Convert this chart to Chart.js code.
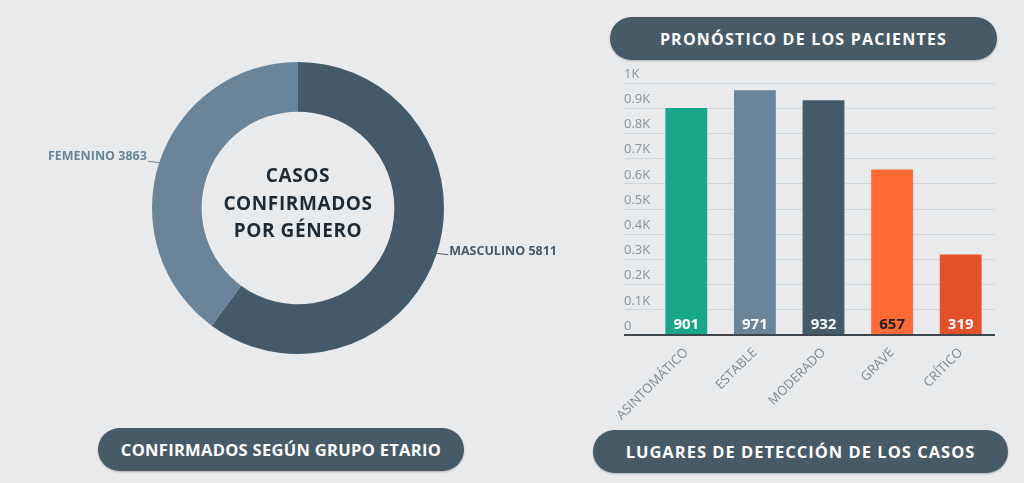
<!DOCTYPE html>
<html>
<head>
<meta charset="utf-8">
<script src="https://cdn.jsdelivr.net/npm/chart.js@4.4.1/dist/chart.umd.min.js"></script>
<style>
  html, body { margin: 0; padding: 0; background: #e9eaec; }
  body { width: 1024px; height: 483px; position: relative; overflow: hidden; font-family: "Open Sans", sans-serif; }
  .pill {
    position: absolute; background: #475a68; color: #fff; font-weight: 700;
    border-radius: 22px; display: flex; align-items: center; justify-content: center;
    font-size: 16px; letter-spacing: 1.2px; box-shadow: 0 1px 2px rgba(0,0,0,0.25);
  }
  #center {
    position: absolute; left: 178px; top: 162px; width: 240px; text-align: center;
    font-weight: 700; font-size: 19px; letter-spacing: 0.6px; line-height: 27.5px; color: #1e2b35;
  }
  canvas { position: absolute; }
</style>
</head>
<body>
<div class="pill" style="left:610px;top:17px;width:387px;height:43px;">PRONÓSTICO DE LOS PACIENTES</div>
<div class="pill" style="left:98px;top:428px;width:366px;height:43px;font-size:16.5px;letter-spacing:0.3px;">CONFIRMADOS SEGÚN GRUPO ETARIO</div>
<div class="pill" style="left:593px;top:430px;width:415px;height:43px;font-size:16.5px;letter-spacing:1px;">LUGARES DE DETECCIÓN DE LOS CASOS</div>

<canvas id="donut" width="600" height="430" style="left:0;top:0;width:600px;height:430px;"></canvas>
<div id="center">CASOS<br>CONFIRMADOS<br>POR GÉNERO</div>
<canvas id="bars" width="410" height="370" style="left:600px;top:60px;width:410px;height:370px;"></canvas>

<script>
// donut data
const genders = ["MASCULINO", "FEMENINO"];
const genderCases = [5811, 3863];
const genderColors = ["#455a69", "#6a8599"];

// bar data
const outcomes = ["ASINTOMÁTICO", "ESTABLE", "MODERADO", "GRAVE", "CRÍTICO"];
const outcomeCases = [901, 971, 932, 657, 319];
const outcomeColors = ["#1aa68b", "#6a8599", "#455a69", "#fd6a34", "#e4502a"];
const outcomeLabelColors = ["#ffffff", "#ffffff", "#ffffff", "#222222", "#ffffff"];

const labelFont = "700 12.5px 'Open Sans', sans-serif";

// leader lines + labels next to each slice
const sliceLabels = {
  id: "sliceLabels",
  afterDatasetsDraw(chart) {
    const ctx = chart.ctx;
    const arcs = chart.getDatasetMeta(0).data;
    ctx.save();
    ctx.font = labelFont;
    ctx.textBaseline = "middle";
    arcs.forEach((arc, i) => {
      const mid = (arc.startAngle + arc.endAngle) / 2;
      const cos = Math.cos(mid), sin = Math.sin(mid);
      const x1 = arc.x + cos * arc.outerRadius, y1 = arc.y + sin * arc.outerRadius;
      const x2 = arc.x + cos * (arc.outerRadius + 12), y2 = arc.y + sin * (arc.outerRadius + 4);
      ctx.strokeStyle = genderColors[i];
      ctx.lineWidth = 1;
      ctx.beginPath();
      ctx.moveTo(x1, y1);
      ctx.lineTo(x2, y2);
      ctx.stroke();
      ctx.fillStyle = genderColors[i];
      const txt = genders[i] + " " + genderCases[i];
      if (cos >= 0) {
        ctx.textAlign = "left";
        ctx.fillText(txt, x2 + 1, y2 - 3);
      } else {
        ctx.textAlign = "right";
        ctx.fillText(txt, x2 - 1, y2 - 5);
      }
    });
    ctx.restore();
  }
};

new Chart(document.getElementById("donut"), {
  type: "doughnut",
  data: {
    labels: genders,
    datasets: [{
      data: genderCases,
      backgroundColor: genderColors,
      borderWidth: 0
    }]
  },
  options: {
    responsive: false,
    animation: false,
    cutout: "66%",
    layout: { padding: { left: 152, right: 156, top: 62, bottom: 76 } },
    plugins: { legend: { display: false }, tooltip: { enabled: false } }
  },
  plugins: [sliceLabels]
});

// value labels at the foot of each bar
const barValues = {
  id: "barValues",
  afterDatasetsDraw(chart) {
    const ctx = chart.ctx;
    const bars = chart.getDatasetMeta(0).data;
    ctx.save();
    ctx.font = "700 15px 'Open Sans', sans-serif";
    ctx.textAlign = "center";
    ctx.textBaseline = "middle";
    bars.forEach((bar, i) => {
      ctx.fillStyle = outcomeLabelColors[i];
      ctx.fillText(String(outcomeCases[i]), bar.x, bar.base - 9);
    });
    ctx.restore();
  }
};

new Chart(document.getElementById("bars"), {
  type: "bar",
  data: {
    labels: outcomes,
    datasets: [{
      data: outcomeCases,
      backgroundColor: outcomeColors,
      categoryPercentage: 1,
      barPercentage: 0.61
    }]
  },
  options: {
    responsive: false,
    animation: false,
    layout: { padding: { left: 24, right: 15, top: 23, bottom: 2 } },
    plugins: { legend: { display: false }, tooltip: { enabled: false } },
    scales: {
      x: {
        border: { display: false },
        grid: { display: false },
        afterFit(scale) { scale.height = 93; },
        ticks: {
          maxRotation: 45, minRotation: 45, padding: 2,
          color: "#7d8890",
          font: { family: "'Open Sans', sans-serif", size: 13 }
        }
      },
      y: {
        min: 0, max: 1000,
        border: { display: false },
        afterFit(scale) { scale.width = 28; },
        grid: {
          tickLength: 28,
          color: (c) => c.tick && c.tick.value === 0 ? "#3d464d" : "#d3d6d9",
          lineWidth: (c) => c.tick && c.tick.value === 0 ? 2 : 1
        },
        ticks: {
          stepSize: 100,
          crossAlign: "far",
          labelOffset: -9,
          color: "#8a949c",
          font: { family: "'Open Sans', sans-serif", size: 13 },
          callback: (v) => v === 0 ? "0" : (v === 1000 ? "1K" : (v / 1000).toFixed(1) + "K")
        }
      }
    }
  },
  plugins: [barValues]
});
</script>
</body>
</html>
